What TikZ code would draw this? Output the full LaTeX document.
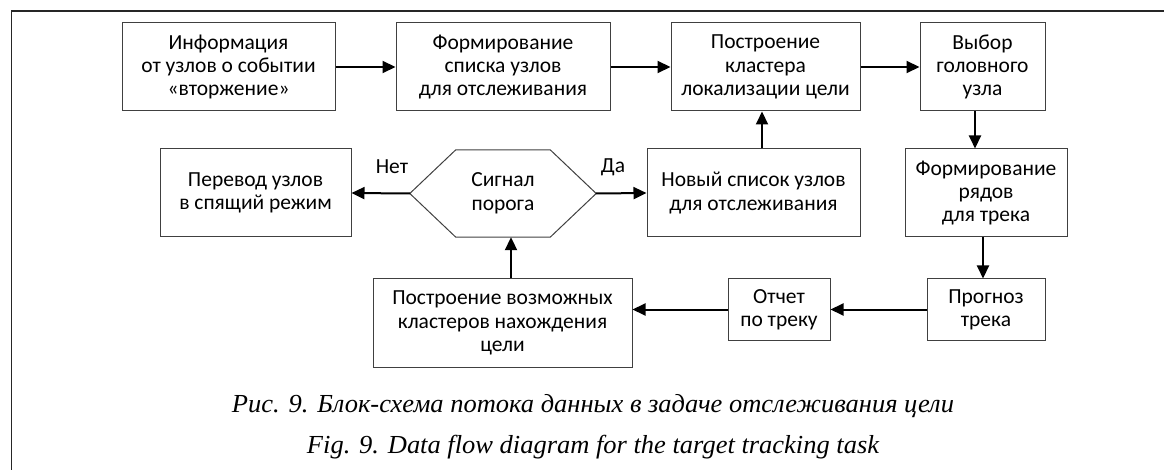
\documentclass[tikz,border=0pt]{standalone}
\usepackage{graphicx}
\usepackage{fontspec}
\setmainfont{Carlito}
\newfontfamily\capfont{Liberation Serif}
\usetikzlibrary{arrows.meta}
\begin{document}
\begin{tikzpicture}[x=1pt,y=-1pt,
  box/.style={draw=black!75, line width=1pt, align=center, inner sep=0pt,
    font=\fontsize{21.5}{23.3}\selectfont},
  arr/.style={line width=2pt, -{Triangle[length=13pt,width=12pt]}},
  lbl/.style={inner sep=0pt, font=\fontsize{21.5}{23}\selectfont},
  captext/.style={anchor=base, inner sep=0pt, font=\capfont\itshape\fontsize{26}{30}\selectfont}]
\useasboundingbox (0,0) rectangle (1164,470);
\draw[line width=1.2pt, black!85] (11.5,470) -- (11.5,11) -- (1164,11);

% top row
\node[box, minimum width=213pt, minimum height=88pt] (b1) at (228.5,67) {Информация\\от узлов о событии\\«вторжение»};
\node[box, minimum width=214pt, minimum height=88pt] (b2) at (503,67) {Формирование\\списка узлов\\для отслеживания};
\node[box, minimum width=189pt, minimum height=88pt] (b3) at (765.5,67) {Построение\\кластера\\локализации цели};
\node[box, minimum width=125pt, minimum height=88pt] (b4) at (982.5,67) {Выбор\\головного\\узла};

% middle row
\node[box, minimum width=191pt, minimum height=88pt] (per) at (255.5,193) {Перевод узлов\\в спящий режим};
\node[inner sep=0pt, minimum width=186pt, minimum height=87pt, align=center,
  font=\fontsize{21.5}{24.5}\selectfont] (sig) at (503,193.5) {Сигнал\\порога};
\draw[draw=black!75, line width=1pt] (sig.west) -- ([xshift=46pt]sig.north west) -- ([xshift=-46pt]sig.north east) -- (sig.east) -- ([xshift=-46pt]sig.south east) -- ([xshift=46pt]sig.south west) -- cycle;
\node[box, minimum width=213pt, minimum height=88pt] (nov) at (753.5,193) {Новый список узлов\\для отслеживания};
\node[box, minimum width=162pt, minimum height=88pt] (ryad) at (986,193) {Формирование\\рядов\\для трека};

% bottom row
\node[box, minimum width=259pt, minimum height=88pt] (pvoz) at (502.5,323) {Построение возможных\\кластеров нахождения\\цели};
\node[box, minimum width=102pt, minimum height=61pt] (otch) at (779,309.5) {Отчет\\по треку};
\node[box, minimum width=118pt, minimum height=61pt] (prog) at (986,309.5) {Прогноз\\трека};

% labels
\node[lbl] (net) at (392,167) {Нет};
\node[lbl] (da) at (613,167) {Да};

% connectors
\draw[arr] (b1.east) -- (b2.west);
\draw[arr] (b2.east) -- (b3.west);
\draw[arr] (b3.east) -- (b4.west);
\draw[arr] ([xshift=-7.5pt]b4.south) -- ([xshift=-7.5pt]b4.south |- ryad.north);
\draw[arr] ([xshift=-3pt]ryad.south) -- ([xshift=-3pt]ryad.south |- prog.north);
\draw[arr] (prog.west) -- (otch.east);
\draw[arr] (otch.west) -- (otch.west -| pvoz.east);
\draw[arr] ([xshift=8.5pt]pvoz.north) -- ([xshift=8.5pt]pvoz.north |- sig.south);
\draw[arr] (sig.west) -- (per.east);
\draw[arr] (sig.east) -- (nov.west);
\draw[arr] ([xshift=8.5pt]nov.north) -- ([xshift=8.5pt]nov.north |- b3.south);

% captions
\node[captext] (cap1) at (593,412) {\resizebox{722pt}{\height}{Рис. 9. Блок-схема потока данных в задаче отслеживания цели}};
\node[captext] (cap2) at (593,453) {\resizebox{572pt}{\height}{Fig. 9. Data flow diagram for the target tracking task}};
\end{tikzpicture}
\end{document}
